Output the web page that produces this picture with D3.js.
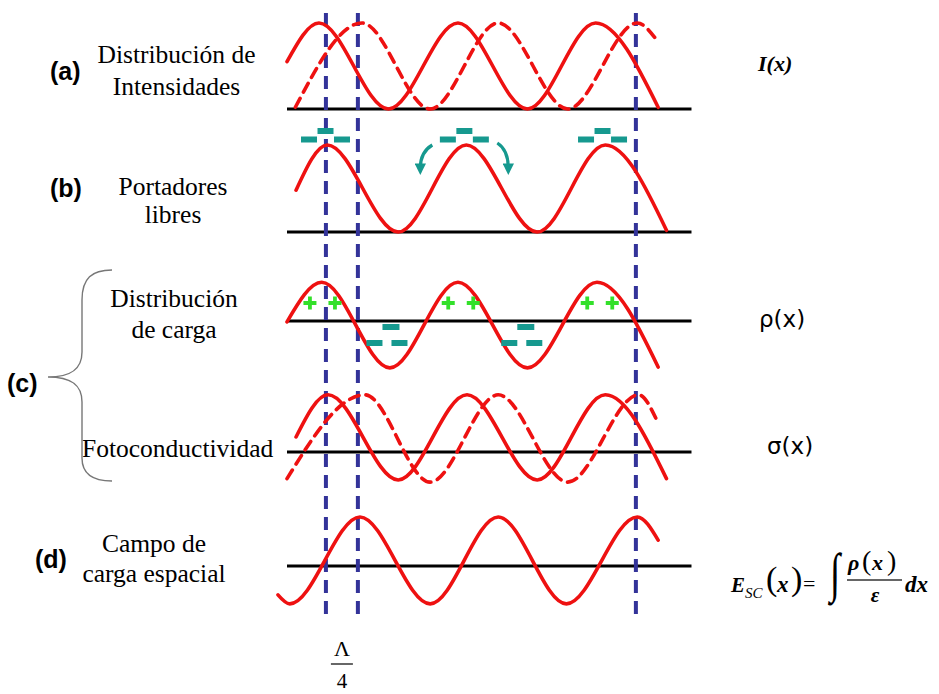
<!DOCTYPE html>
<html>
<head>
<meta charset="utf-8">
<script src="https://cdn.jsdelivr.net/npm/d3@7"></script>
<style>
  html, body { margin: 0; padding: 0; background: #fff; }
  svg { display: block; }
</style>
</head>
<body>
<div id="chart"></div>
<script>
// x in units of the grating period Λ, y in units of each panel's wave amplitude
// key points (ends, peaks, troughs)
const intensity = [[0, 0.55], [0.23, 1], [0.73, 0], [1.23, 1], [1.73, 0], [2.22, 1], [2.67, 0.02]];
const intensityShifted = [[0.06, 0.02], [0.54, 1], [1.03, 0], [1.52, 1], [2.02, 0], [2.52, 1], [2.66, 0.8]];
const carriers = [[0.065, 0.48], [0.29, 1], [0.8, 0], [1.29, 1], [1.8, 0], [2.29, 1], [2.73, 0.02]];
const charge = [[0, -0.02], [0.25, 0.9], [0.74, -1.09], [1.23, 0.9], [1.73, -1.09], [2.23, 0.9], [2.67, -1.07]];
const conductivity = [[0.065, 0.35], [0.295, 1.33], [0.8, -0.65], [1.295, 1.33], [1.8, -0.65], [2.29, 1.33], [2.73, -0.62]];
const conductivityShifted = [[0, -0.62], [0.56, 1.33], [1.03, -0.7], [1.52, 1.33], [2.02, -0.7], [2.53, 1.33], [2.66, 0.74]];
const field = [[-0.065, -0.67], [0.02, -0.88], [0.525, 1.14], [1.03, -0.88], [1.52, 1.14], [2.01, -0.88], [2.52, 1.14], [2.67, 0.6]];

const axisExtent = [0, 2.91];
const guides = [0.28, 0.51, 2.51];            // vertical dashed markers
const electronSites = [0.277, 1.276, 2.27];   // free carriers on top of (b) peaks
const positiveSites = [0.165, 0.345, 1.16, 1.34, 2.16, 2.34];
const negativeSites = [0.73, 1.7];

const panelLabels = ["(a)", "(b)", "(c)", "(d)"];
const descLabels = [
    ["Distribución de", "Intensidades"],
    ["Portadores", "libres"],
    ["Distribución", "de carga"],
    ["Fotoconductividad"],
    ["Campo de", "carga espacial"]
];

const RED = "#ee1111", BLUE = "#333399", TEAL = "#16998f", GREEN = "#33e02a";
const SERIF = "Liberation Serif, Tinos, DejaVu Serif, serif";
const SANS = "Liberation Sans, Arial, sans-serif";

const svg = d3.select("#chart").append("svg")
    .attr("width", 939)
    .attr("height", 694);
svg.append("rect").attr("width", 939).attr("height", 694).attr("fill", "#fff");

const x = d3.scaleLinear().domain([0, 1]).range([287, 426]);

// each panel: baseline pixel and amplitude in pixels
const panelY = (base, unit) => d3.scaleLinear().domain([0, 1]).range([base, base - unit]);
const yA = panelY(109, 86);
const yB = panelY(232, 87);
const yRho = panelY(321, 43);
const ySigma = panelY(452, 43);
const yD = panelY(566, 43);

// baselines
[yA, yB, yRho, ySigma, yD].forEach(y => {
    svg.append("line")
        .attr("x1", x(axisExtent[0]))
        .attr("x2", x(axisExtent[1]))
        .attr("y1", y(0))
        .attr("y2", y(0))
        .attr("stroke", "#000")
        .attr("stroke-width", 3.2);
});

// vertical guides
svg.selectAll(".guide")
    .data(guides)
    .join("line")
    .attr("class", "guide")
    .attr("x1", d => x(d))
    .attr("x2", d => x(d))
    .attr("y1", 13)
    .attr("y2", 622)
    .attr("stroke", BLUE)
    .attr("stroke-width", 4)
    .attr("stroke-dasharray", "13,8");

function wave(points, y, dashed) {
    svg.append("path")
        .datum(points)
        .attr("fill", "none")
        .attr("stroke", RED)
        .attr("stroke-width", 3.6)
        .attr("stroke-linecap", "round")
        .attr("stroke-dasharray", dashed ? "10,7" : null)
        .attr("d", d3.line()
            .curve(d3.curveMonotoneX)
            .x(d => x(d[0]))
            .y(d => y(d[1])));
}

wave(intensity, yA, false);
wave(intensityShifted, yA, true);
wave(carriers, yB, false);
wave(charge, yRho, false);
wave(conductivity, ySigma, false);
wave(conductivityShifted, ySigma, true);
wave(field, yD, false);

// teal dash groups ("−" charges): one on top, two below
function minusGroup(cx, topY) {
    const w = 16, h = 6;
    [[0, 0], [-16.5, 8.5], [16.5, 8.5]].forEach(([dx, dy]) => {
        svg.append("rect")
            .attr("x", cx + dx - w / 2)
            .attr("y", topY + dy)
            .attr("width", w)
            .attr("height", h)
            .attr("fill", TEAL);
    });
}
electronSites.forEach(u => minusGroup(x(u), 128));

// in (c) the negative charge sits in the troughs, wider spacing
negativeSites.forEach(u => {
    const cx = x(u);
    svg.append("rect").attr("x", cx - 6).attr("y", 324).attr("width", 17).attr("height", 6).attr("fill", TEAL);
    svg.append("rect").attr("x", cx - 22).attr("y", 340).attr("width", 16).attr("height", 6).attr("fill", TEAL);
    svg.append("rect").attr("x", cx + 3).attr("y", 340).attr("width", 16).attr("height", 6).attr("fill", TEAL);
});

// green "+" charges near the (c) peaks
svg.selectAll(".plus")
    .data(positiveSites)
    .join("path")
    .attr("class", "plus")
    .attr("d", d => `M${x(d) - 6.5},303 h13 M${x(d)},296.5 v13`)
    .attr("stroke", GREEN)
    .attr("stroke-width", 3.8)
    .attr("fill", "none");

// diffusion arrows around the middle (b) peak
const defs = svg.append("defs");
defs.append("marker")
    .attr("id", "head")
    .attr("viewBox", "0 0 10 10")
    .attr("refX", 4)
    .attr("refY", 5)
    .attr("markerWidth", 3.6)
    .attr("markerHeight", 3.6)
    .attr("orient", "auto")
    .append("path")
    .attr("d", "M0,0 L10,5 L0,10 Z")
    .attr("fill", TEAL);

const px = x(carriers[3][0]);
svg.append("path")
    .attr("d", `M${px - 34},145 Q${px - 46},152 ${px - 46},168`)
    .attr("fill", "none").attr("stroke", TEAL).attr("stroke-width", 3.2)
    .attr("marker-end", "url(#head)");
svg.append("path")
    .attr("d", `M${px + 31},143 Q${px + 42},150 ${px + 42},168`)
    .attr("fill", "none").attr("stroke", TEAL).attr("stroke-width", 3.2)
    .attr("marker-end", "url(#head)");

// panel letters
const letterPos = [[50, 80], [50, 197], [7, 392], [35, 568]];
panelLabels.forEach((t, i) => {
    svg.append("text")
        .attr("x", letterPos[i][0])
        .attr("y", letterPos[i][1])
        .style("font-family", SANS)
        .style("font-weight", "bold")
        .style("font-size", "25px")
        .text(t);
});

// descriptive labels (serif)
const descPos = [
    { x: 176.5, y: [63, 95], anchor: "middle" },
    { x: 173, y: [195, 223], anchor: "middle" },
    { x: 174, y: [307, 338], anchor: "middle" },
    { x: 82, y: [457], anchor: "start" },
    { x: 154, y: [552, 582], anchor: "middle" }
];
descLabels.forEach((lines, i) => {
    lines.forEach((t, j) => {
        svg.append("text")
            .attr("x", descPos[i].x)
            .attr("y", descPos[i].y[j])
            .attr("text-anchor", descPos[i].anchor)
            .style("font-family", SERIF)
            .style("font-size", "25.5px")
            .text(t);
    });
});

// brace for (c)
svg.append("path")
    .attr("d", "M112,270 C92,270 82,278 82,300 L82,352 C82,370 70,377 48,377 C70,377 82,384 82,402 L82,458 C82,474 92,481 112,481")
    .attr("fill", "none")
    .attr("stroke", "#777")
    .attr("stroke-width", 1.4);

// right-hand quantities
svg.append("text")
    .attr("x", 758).attr("y", 71)
    .style("font-family", SERIF).style("font-style", "italic").style("font-weight", "bold")
    .style("font-size", "22px")
    .text("I(x)");
svg.append("text")
    .attr("x", 759).attr("y", 327)
    .style("font-family", "DejaVu Sans, sans-serif").style("font-size", "23px")
    .text("ρ(x)");
svg.append("text")
    .attr("x", 767).attr("y", 454)
    .style("font-family", "DejaVu Sans, sans-serif").style("font-size", "23px")
    .text("σ(x)");

// E_SC(x) = ∫ ρ(x)/ε dx
const eq = svg.append("g").style("font-family", SERIF);
const eqText = (tx, ty, t, size, opts = {}) => eq.append("text")
    .attr("x", tx).attr("y", ty)
    .attr("text-anchor", opts.anchor || "start")
    .style("font-size", size + "px")
    .style("font-style", opts.italic ? "italic" : "normal")
    .style("font-weight", opts.bold ? "bold" : "normal")
    .text(t);
eqText(731, 592, "E", 21, { italic: true, bold: true });
eqText(745, 598, "SC", 15, { italic: true });
eqText(766, 590, "(", 34);
eqText(777, 592, "x", 23, { italic: true, bold: true });
eqText(791, 590, ")", 34);
eqText(803, 591, "=", 22);
// integral sign stretched vertically
eq.append("text")
    .attr("transform", "translate(830,591) scale(1.1,1.6)")
    .style("font-size", "34px")
    .style("font-weight", "bold")
    .text("∫");
eqText(848, 570, "ρ", 22, { italic: true, bold: true });
eqText(862, 570, "(", 28);
eqText(872, 570, "x", 22, { italic: true, bold: true });
eqText(887, 570, ")", 28);
eq.append("line")
    .attr("x1", 847).attr("x2", 902)
    .attr("y1", 580).attr("y2", 580)
    .attr("stroke", "#333").attr("stroke-width", 1.4);
eqText(875, 602, "ε", 21, { italic: true, bold: true, anchor: "middle" });
eqText(905, 592, "dx", 23, { italic: true, bold: true });

// Λ/4 marker between the first two guides
const mid = (x(guides[0]) + x(guides[1])) / 2;
svg.append("text")
    .attr("x", mid).attr("y", 656)
    .attr("text-anchor", "middle")
    .style("font-family", SERIF).style("font-size", "22px")
    .text("Λ");
svg.append("line")
    .attr("x1", mid - 11).attr("x2", mid + 11)
    .attr("y1", 664).attr("y2", 664)
    .attr("stroke", "#000").attr("stroke-width", 1.2);
svg.append("text")
    .attr("x", mid).attr("y", 688)
    .attr("text-anchor", "middle")
    .style("font-family", SERIF).style("font-size", "21px")
    .text("4");
</script>
</body>
</html>
